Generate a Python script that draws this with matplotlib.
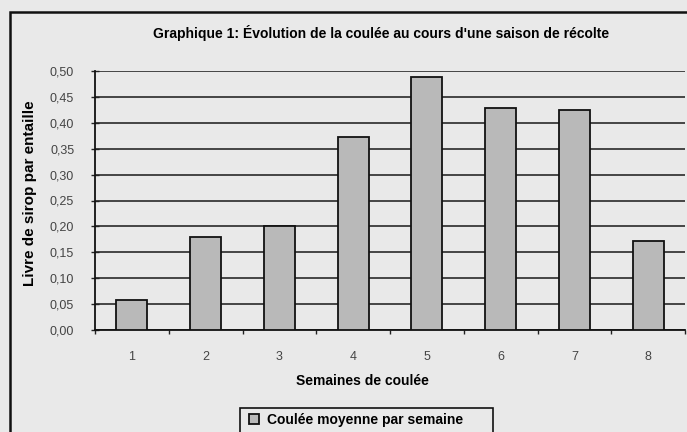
import matplotlib
matplotlib.use("Agg")
import matplotlib.pyplot as plt
from matplotlib.patches import Rectangle
from matplotlib.ticker import FixedLocator

weeks = ["1", "2", "3", "4", "5", "6", "7", "8"]
values = [0.057, 0.179, 0.201, 0.373, 0.488, 0.428, 0.425, 0.172]
yticks = [0.00, 0.05, 0.10, 0.15, 0.20, 0.25, 0.30, 0.35, 0.40, 0.45, 0.50]
ytick_labels = ["0,00", "0,05", "0,10", "0,15", "0,20", "0,25", "0,30", "0,35", "0,40", "0,45", "0,50"]

plt.rcParams['font.family'] = ['Liberation Sans', 'DejaVu Sans']

W, H = 687, 432
fig = plt.figure(figsize=(W / 100, H / 100), dpi=100)
bg = "#e9e9e9"
fig.patch.set_facecolor(bg)

# outer frame
fig.patches.append(Rectangle((10 / W, -0.05), 1.2, 1 - 12 / H + 0.05, transform=fig.transFigure,
                             fill=False, edgecolor="#111111", linewidth=1.8))

ax = fig.add_axes([95 / W, 1 - 330 / H, (685 - 95) / W, (330 - 71) / H])
ax.set_facecolor(bg)
x = list(range(len(weeks)))
ax.bar(x, values, width=0.42, color="#b9b9b9", edgecolor="#111111", linewidth=1.3, zorder=3,
       label="Coulée moyenne par semaine")
ax.set_xlim(-0.5, len(weeks) - 0.5)
ax.set_ylim(0, 0.5)
ax.set_yticks(yticks)
ax.set_yticklabels(ytick_labels, fontsize=9, color="#444444")
ax.set_xticks(x)
ax.set_xticklabels(weeks, fontsize=9, color="#444444")
ax.tick_params(axis='x', length=0, pad=15)
ax.xaxis.set_minor_locator(FixedLocator([i + 0.5 for i in range(-1, len(weeks))]))
ax.tick_params(axis='x', which='minor', length=3, width=1, color="#222222")
ax.tick_params(axis='y', direction='inout', length=6, width=1, color="#222222", pad=12)
ax.grid(axis='y', color="#2a2a2a", linewidth=1.2, zorder=0)
for s in ["top", "right"]:
    ax.spines[s].set_visible(False)
ax.spines["left"].set_linewidth(1.3)
ax.spines["bottom"].set_linewidth(1.3)
ax.spines["left"].set_color("#111111")
ax.spines["bottom"].set_color("#111111")

fig.text(30 / W, 1 - 193 / H, "Livre de sirop par entaille", rotation=90, ha="center", va="center",
         fontsize=11, fontweight="bold")
fig.text(362 / W, 1 - 381 / H, "Semaines de coulée", ha="center", va="center",
         fontsize=10, fontweight="bold")
fig.text(381 / W, 1 - 33 / H, "Graphique 1: Évolution de la coulée au cours d'une saison de récolte",
         ha="center", va="center", fontsize=10, fontweight="bold")

# legend frame (cut off at the bottom like the reference)
fig.patches.append(Rectangle((240 / W, -0.05), (493 - 240) / W, 1 - 408 / H + 0.05,
                             transform=fig.transFigure, fill=False, edgecolor="#111111", linewidth=1.2))
leg = fig.legend(loc="center left", bbox_to_anchor=(242 / W, 1 - 420 / H),
                 frameon=False, handlelength=0.7, handleheight=0.7, handletextpad=0.6,
                 borderpad=0.0, prop={'weight': 'bold', 'size': 10})

fig.savefig("out.png", dpi=100, facecolor=bg)
